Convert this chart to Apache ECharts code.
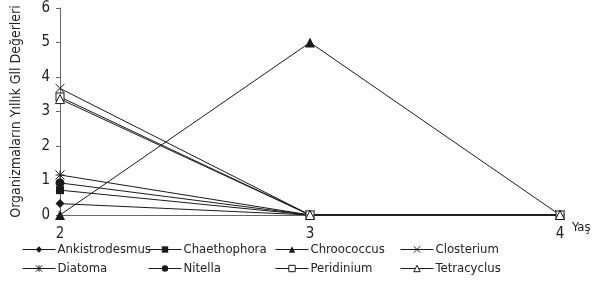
<!DOCTYPE html>
<html>
<head>
<meta charset="utf-8">
<script src="https://cdn.jsdelivr.net/npm/echarts@6/dist/echarts.min.js"></script>
<style>
  html, body { margin: 0; padding: 0; background: #fff; }
  #chart { width: 603px; height: 282px; }
</style>
</head>
<body>
<div id="chart"></div>
<script>
const years = ["2", "3", "4"];
const yTicks = [0, 1, 2, 3, 4, 5, 6];

const ankistrodesmus = [0.33, 0, 0];
const chaethophora = [0.72, 0, 0];
const chroococcus = [0, 5, 0];
const closterium = [3.67, 0, 0];
const diatoma = [1.16, 0, 0];
const nitella = [0.93, 0, 0];
const peridinium = [3.42, 0, 0];
const tetracyclus = [3.36, 0, 0];

const crossPath = "path://M0,0L10,10M10,0L0,10";
const starPath = "path://M0,0L10,10M10,0L0,10M5,0L5,10M0,5L10,5";

const font = "DejaVu Sans Condensed, DejaVu Sans, sans-serif";
const lineCol = "#1a1a1a";

function mk(name, data, symbol, size, stroke) {
  return {
    name: name,
    type: "line",
    data: data,
    symbol: symbol,
    symbolSize: size,
    showSymbol: true,
    animation: false,
    lineStyle: { color: lineCol, width: 1 },
    itemStyle: stroke
      ? { color: "#fff", borderColor: lineCol, borderWidth: 1 }
      : { color: lineCol, borderWidth: 0 },
    emphasis: { disabled: true },
  };
}

const series = [
  mk("Ankistrodesmus", ankistrodesmus, "diamond", 9, false),
  mk("Chaethophora", chaethophora, "rect", 8, false),
  mk("Chroococcus", chroococcus, "triangle", 10, false),
  mk("Closterium", closterium, crossPath, 9, true),
  mk("Diatoma", diatoma, starPath, 9, true),
  mk("Nitella", nitella, "circle", 9, false),
  mk("Peridinium", peridinium, "rect", 8, true),
  mk("Tetracyclus", tetracyclus, "triangle", 9, true),
];

const cols = [
  ["Ankistrodesmus", "Diatoma"],
  ["Chaethophora", "Nitella"],
  ["Chroococcus", "Peridinium"],
  ["Closterium", "Tetracyclus"],
];
const colLeft = [22, 148, 275, 400];

const legends = cols.map((names, i) => ({
  data: names,
  orient: "vertical",
  left: colLeft[i],
  top: 243,
  padding: 0,
  itemWidth: 33,
  itemHeight: 8,
  itemGap: 6,
  selectedMode: false,
  lineStyle: { width: 1 },
  itemStyle: { borderWidth: 1 },
  textStyle: { fontFamily: font, fontSize: 13, color: "#222", padding: [0, 0, 0, -3] },
}));

const chart = echarts.init(document.getElementById("chart"));
chart.setOption({
  animation: false,
  grid: { left: 60, right: 43, top: 8, bottom: 67, containLabel: false, outerBoundsMode: "none" },
  legend: legends,
  xAxis: {
    type: "category",
    data: years,
    boundaryGap: false,
    name: "Yaş",
    nameLocation: "end",
    nameGap: 12,
    nameTextStyle: { fontFamily: font, fontSize: 13, color: "#222", verticalAlign: "top", padding: [6, 0, 0, 0] },
    axisLine: { lineStyle: { color: "#666", width: 1 } },
    axisTick: { show: false },
    axisLabel: { fontFamily: font, fontSize: 15, color: "#222", margin: 12 },
    splitLine: { show: false },
  },
  yAxis: {
    type: "value",
    min: yTicks[0],
    max: yTicks[yTicks.length - 1],
    interval: 1,
    name: "Organizmaların Yıllık Gll Değerleri",
    nameLocation: "middle",
    nameGap: 37,
    nameTextStyle: { fontFamily: font, fontSize: 14, color: "#222" },
    axisLine: { show: true, lineStyle: { color: "#666", width: 1 } },
    axisTick: { show: true, length: 4, lineStyle: { color: "#666" } },
    axisLabel: { fontFamily: font, fontSize: 15, color: "#222", margin: 10 },
    splitLine: { show: false },
  },
  series: series,
});
</script>
</body>
</html>
